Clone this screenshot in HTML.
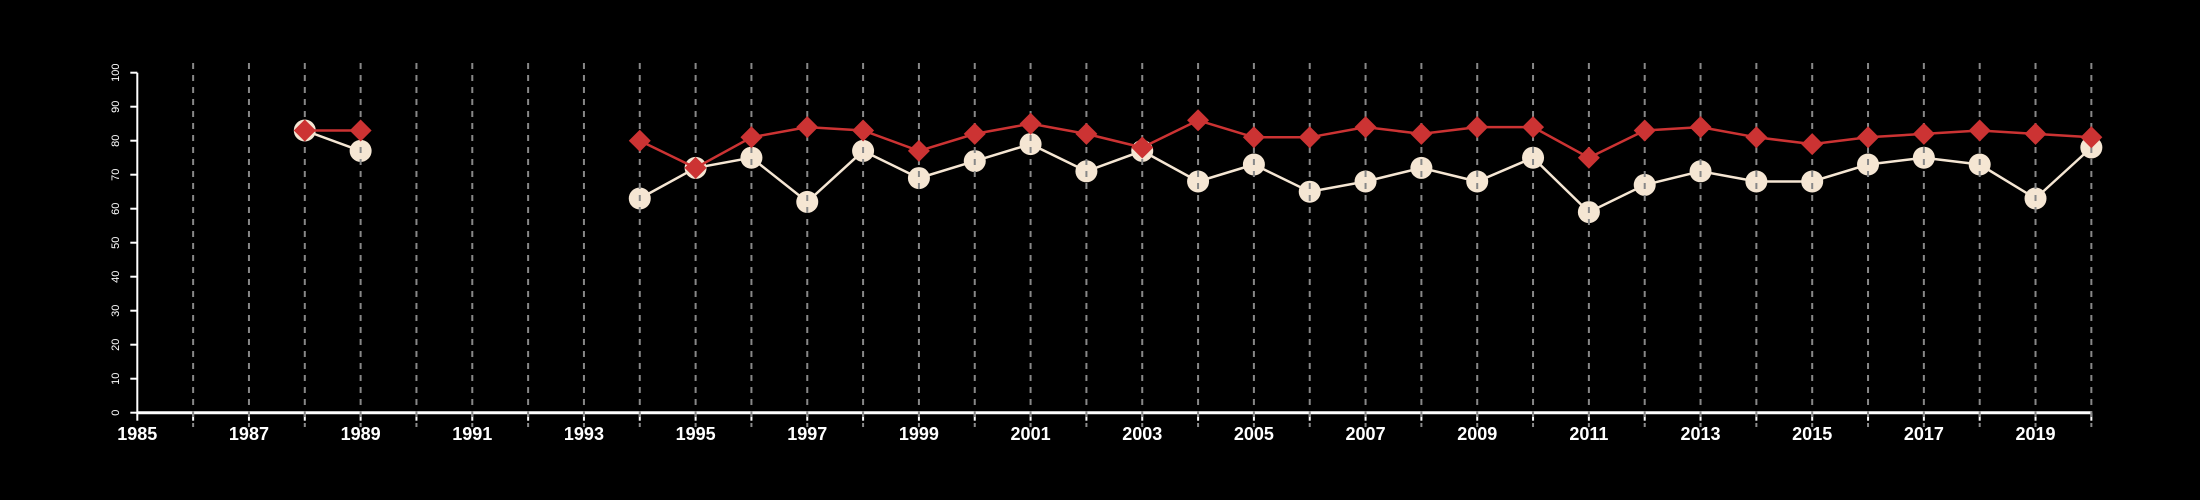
<!DOCTYPE html>
<html><head><meta charset="utf-8"><style>
html,body{margin:0;padding:0;background:#000;width:2200px;height:500px;overflow:hidden}
svg text{font-family:"Liberation Sans",sans-serif;fill:#fff}
</style></head><body>
<svg id="chart" width="2200" height="500" xmlns="http://www.w3.org/2000/svg"></svg>
<script>
const years = [1988,1989,1994,1995,1996,1997,1998,1999,2000,2001,2002,2003,2004,2005,2006,2007,2008,2009,2010,2011,2012,2013,2014,2015,2016,2017,2018,2019,2020];
const redValues = [83,83,80,72,81,84,83,77,82,85,82,78,86,81,81,84,82,84,84,75,83,84,81,79,81,82,83,82,81];
const whiteValues = [83,77,63,72,75,62,77,69,74,79,71,77,68,73,65,68,72,68,75,59,67,71,68,68,73,75,73,63,78];
const xTickLabels = [1985,1987,1989,1991,1993,1995,1997,1999,2001,2003,2005,2007,2009,2011,2013,2015,2017,2019];
const yTickLabels = [0,10,20,30,40,50,60,70,80,90,100];

const NS="http://www.w3.org/2000/svg";
const svg=document.getElementById('chart');
const X=y=>137.3+55.83*(y-1985);
const Y=v=>412.7-3.4*v;
function mk(tag,attrs,parent){const e=document.createElementNS(NS,tag);for(const k in attrs)e.setAttribute(k,attrs[k]);(parent||svg).appendChild(e);return e;}

// axes
let ax=mk('line',{x1:X(1985),y1:Y(0),x2:X(2020),y2:Y(0),stroke:'#fff','stroke-width':3});


let ay=mk('line',{x1:X(1985),y1:Y(0),x2:X(1985),y2:Y(100),stroke:'#fff','stroke-width':2});


for(let yr=1985;yr<=2020;yr++){
  let t=mk('line',{x1:X(yr),y1:Y(0),x2:X(yr),y2:Y(0)+8,stroke:'#fff','stroke-width':2});
  
  
}
xTickLabels.forEach(yr=>{
  let t=mk('text',{x:X(yr),y:440,'text-anchor':'middle','font-size':18,'font-weight':'bold'});
  t.textContent=yr;
  
  
});
yTickLabels.forEach(v=>{
  let tk=mk('line',{x1:X(1985)-7,y1:Y(v),x2:X(1985),y2:Y(v),stroke:'#fff','stroke-width':2});
  
  
  let t=mk('text',{x:0,y:0,'text-anchor':'middle','font-size':11,transform:`translate(119,${Y(v)}) rotate(-90)`});
  t.textContent=v;
  
  
});

function segs(vals){let out=[],cur=[];for(let i=0;i<years.length;i++){if(i>0&&years[i]-years[i-1]>1){out.push(cur);cur=[];}cur.push([X(years[i]),Y(vals[i])]);}out.push(cur);return out;}

// white series
segs(whiteValues).forEach(s=>{
  let p=mk('polyline',{points:s.map(q=>q.join(',')).join(' '),fill:'none',stroke:'#f5e6d3','stroke-width':2.5});
  
  
});
years.forEach((yr,i)=>{
  let c=mk('circle',{cx:X(yr),cy:Y(whiteValues[i]),r:11,fill:'#f5e6d3'});
  
  
});
// grid
for(let yr=1986;yr<=2020;yr++){
  let g=mk('line',{x1:X(yr),y1:63,x2:X(yr),y2:427,stroke:'#888','stroke-width':2,'stroke-dasharray':'6,6'});
  
  
}
// red series
segs(redValues).forEach(s=>{
  let p=mk('polyline',{points:s.map(q=>q.join(',')).join(' '),fill:'none',stroke:'#cc3333','stroke-width':2.5});
  
  
});
years.forEach((yr,i)=>{
  const cx=X(yr),cy=Y(redValues[i]),r=11;
  let d=mk('polygon',{points:`${cx},${cy-r} ${cx+r},${cy} ${cx},${cy+r} ${cx-r},${cy}`,fill:'#cc3333'});
  
  
});
</script>
</body></html>
